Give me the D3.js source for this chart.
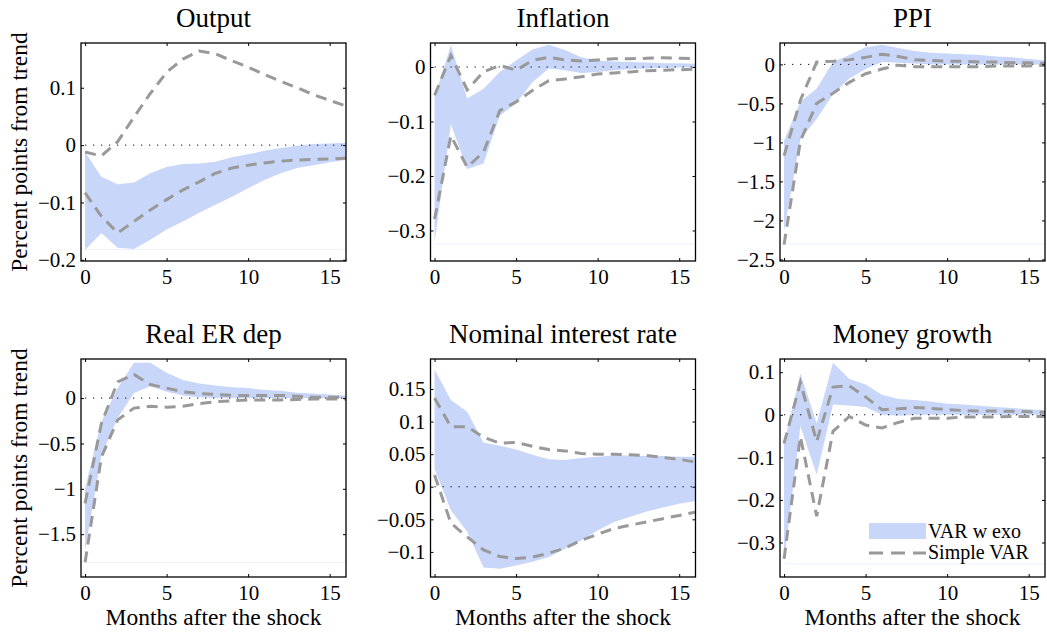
<!DOCTYPE html>
<html><head><meta charset="utf-8">
<script src="https://cdn.jsdelivr.net/npm/d3@7"></script>
<style>
body{margin:0;background:#fff;}
svg{display:block;font-family:"Liberation Serif","Times New Roman",serif;}
</style></head>
<body><svg id="chart" width="1047" height="634"></svg>
<script>
const months = [0,1,2,3,4,5,6,7,8,9,10,11,12,13,14,15,16];
const xTicks = [0,5,10,15];

const titles = ["Output","Inflation","PPI","Real ER dep","Nominal interest rate","Money growth"];

// VAR w exo band (upper / lower) and Simple VAR bounds (upper / lower)
const outputBandHi = [-0.012,-0.055,-0.068,-0.065,-0.049,-0.038,-0.033,-0.032,-0.029,-0.021,-0.016,-0.010,-0.005,-0.001,0.002,0.003,0.004];
const outputBandLo = [-0.183,-0.153,-0.179,-0.181,-0.165,-0.147,-0.133,-0.118,-0.104,-0.090,-0.075,-0.061,-0.049,-0.040,-0.035,-0.030,-0.026];
const outputSimpleHi = [-0.012,-0.019,0.006,0.049,0.090,0.127,0.150,0.164,0.159,0.147,0.136,0.123,0.111,0.100,0.088,0.078,0.068];
const outputSimpleLo = [-0.083,-0.124,-0.153,-0.133,-0.113,-0.095,-0.078,-0.064,-0.049,-0.040,-0.035,-0.031,-0.028,-0.026,-0.025,-0.024,-0.023];
const outputTicks = [-0.2,-0.1,0,0.1];

const inflBandHi = [-0.055,0.040,-0.058,-0.040,-0.009,0.012,0.032,0.041,0.031,0.018,0.012,0.010,0.009,0.008,0.007,0.007,0.006];
const inflBandLo = [-0.322,-0.105,-0.187,-0.177,-0.089,-0.067,-0.028,-0.003,-0.006,-0.011,-0.009,-0.006,-0.004,-0.003,-0.002,-0.001,0.000];
const inflSimpleHi = [-0.052,0.021,-0.042,-0.009,0.003,-0.006,0.012,0.018,0.013,0.011,0.013,0.015,0.015,0.016,0.017,0.016,0.015];
const inflSimpleLo = [-0.279,-0.126,-0.184,-0.156,-0.080,-0.064,-0.043,-0.025,-0.022,-0.018,-0.013,-0.011,-0.009,-0.007,-0.006,-0.005,-0.004];
const inflTicks = [-0.3,-0.2,-0.1,0];

const ppiBandHi = [-0.98,-0.48,-0.31,0.03,0.12,0.22,0.25,0.21,0.17,0.15,0.14,0.13,0.12,0.10,0.09,0.07,0.05];
const ppiBandLo = [-2.14,-0.96,-0.70,-0.38,-0.18,-0.06,0.03,0.02,0.01,0,0,0,0,0,0,0,0];
const ppiSimpleHi = [-1.17,-0.46,0.03,0.04,0.06,0.09,0.13,0.10,0.06,0.05,0.04,0.04,0.03,0.03,0.02,0.02,0.01];
const ppiSimpleLo = [-2.31,-0.98,-0.50,-0.37,-0.23,-0.12,-0.06,-0.01,-0.03,-0.03,-0.03,-0.03,-0.03,-0.02,-0.02,-0.02,-0.01];
const ppiTicks = [-2.5,-2,-1.5,-1,-0.5,0];

const rerBandHi = [-0.995,-0.26,0.11,0.39,0.39,0.28,0.20,0.16,0.14,0.12,0.11,0.09,0.08,0.06,0.05,0.04,0.03];
const rerBandLo = [-1.68,-0.63,-0.22,0.055,0.13,0.07,0.03,0.01,0,0,0,0,0,0,0,0,0];
const rerSimpleHi = [-1.16,-0.28,0.18,0.26,0.15,0.11,0.07,0.05,0.04,0.03,0.03,0.03,0.03,0.02,0.01,0.01,0.01];
const rerSimpleLo = [-1.81,-0.65,-0.24,-0.11,-0.09,-0.10,-0.09,-0.06,-0.04,-0.03,-0.02,-0.02,-0.02,-0.015,-0.01,-0.01,-0.01];
const rerTicks = [-1.5,-1,-0.5,0];

const rateBandHi = [0.180,0.133,0.115,0.068,0.063,0.057,0.049,0.042,0.041,0.044,0.046,0.048,0.048,0.047,0.047,0.046,0.046];
const rateBandLo = [0.027,-0.036,-0.069,-0.124,-0.126,-0.121,-0.115,-0.108,-0.095,-0.082,-0.067,-0.054,-0.046,-0.038,-0.032,-0.026,-0.022];
const rateSimpleHi = [0.136,0.092,0.092,0.076,0.067,0.068,0.062,0.057,0.055,0.051,0.050,0.050,0.049,0.048,0.045,0.042,0.038];
const rateSimpleLo = [0.018,-0.056,-0.077,-0.097,-0.107,-0.110,-0.108,-0.102,-0.094,-0.082,-0.073,-0.064,-0.059,-0.054,-0.049,-0.044,-0.039];
const rateTicks = [-0.1,-0.05,0,0.05,0.1,0.15];

const moneyBandHi = [-0.067,0.097,-0.020,0.122,0.084,0.071,0.047,0.037,0.035,0.031,0.026,0.024,0.021,0.018,0.016,0.013,0.010];
const moneyBandLo = [-0.346,-0.027,-0.141,0.024,0.022,0.018,0.000,-0.002,0,0,0,0,0,0,0,0,0];
const moneySimpleHi = [-0.067,0.076,-0.063,0.065,0.068,0.042,0.012,0.014,0.017,0.015,0.012,0.010,0.009,0.009,0.008,0.007,0.006];
const moneySimpleLo = [-0.338,-0.051,-0.238,-0.039,-0.004,-0.024,-0.031,-0.018,-0.008,-0.008,-0.008,-0.005,-0.005,-0.005,-0.004,-0.004,-0.004];
const moneyTicks = [-0.3,-0.2,-0.1,0,0.1];

const yDomains = [[-0.202,0.178],[-0.356,0.044],[-2.52,0.274],[-1.972,0.431],[-0.1385,0.196],[-0.381,0.131]];
const baselines = [-0.182,-0.325,-2.3,-1.81,null,-0.35];

const legendLabels = ["VAR w exo","Simple VAR"];
const yLabel = "Percent points from trend";
const xLabel = "Months after the shock";

const panels = [
  {bHi:outputBandHi,bLo:outputBandLo,sHi:outputSimpleHi,sLo:outputSimpleLo,ticks:outputTicks},
  {bHi:inflBandHi,bLo:inflBandLo,sHi:inflSimpleHi,sLo:inflSimpleLo,ticks:inflTicks},
  {bHi:ppiBandHi,bLo:ppiBandLo,sHi:ppiSimpleHi,sLo:ppiSimpleLo,ticks:ppiTicks},
  {bHi:rerBandHi,bLo:rerBandLo,sHi:rerSimpleHi,sLo:rerSimpleLo,ticks:rerTicks},
  {bHi:rateBandHi,bLo:rateBandLo,sHi:rateSimpleHi,sLo:rateSimpleLo,ticks:rateTicks},
  {bHi:moneyBandHi,bLo:moneyBandLo,sHi:moneySimpleHi,sLo:moneySimpleLo,ticks:moneyTicks}
];

const BAND = "#c8d6fa", DASH = "#999999";
const svg = d3.select("#chart");
const W = 265, H = 218;
const lefts = [81, 430.5, 780], tops = [43, 359];
const fmt = v => (v < 0 ? "\u2212" + String(Math.abs(v)) : String(v));

panels.forEach((p, i) => {
  const col = i % 3, row = Math.floor(i / 3);
  const g = svg.append("g").attr("transform", `translate(${lefts[col]},${tops[row]})`);
  const x = d3.scaleLinear().domain([-0.25, 16]).range([0, W]);
  const y = d3.scaleLinear().domain(yDomains[i]).range([H, 0]);

  // faint baseline of the band fill
  if (baselines[i] !== null) {
    g.append("line").attr("x1", x(0)).attr("x2", x(16)).attr("y1", y(baselines[i])).attr("y2", y(baselines[i]))
      .attr("stroke", "#eef1fb").attr("stroke-width", 1);
  }

  const area = d3.area().x((d, k) => x(months[k])).y0((d, k) => y(p.bLo[k])).y1((d, k) => y(p.bHi[k]));
  g.append("path").datum(p.bHi).attr("d", area).attr("fill", BAND);

  // zero line
  g.append("line").attr("x1", x(0)).attr("x2", x(16)).attr("y1", y(0)).attr("y2", y(0))
    .attr("stroke", "#000").attr("stroke-width", 1).attr("stroke-dasharray", "1.2,6.8");

  const line = d3.line().x((d, k) => x(months[k])).y(d => y(d));
  [p.sHi, p.sLo].forEach(s => {
    g.append("path").datum(s).attr("d", line).attr("fill", "none")
      .attr("stroke", DASH).attr("stroke-width", 3).attr("stroke-dasharray", "11,7");
  });

  // axes with inward ticks on all four sides
  const gl = g.append("g").call(d3.axisLeft(y).tickValues(p.ticks).tickFormat(fmt).tickSize(-3).tickPadding(5));
  const gr = g.append("g").attr("transform", `translate(${W},0)`).call(d3.axisRight(y).tickValues(p.ticks).tickFormat("").tickSize(-3));
  const gb = g.append("g").attr("transform", `translate(0,${H})`).call(d3.axisBottom(x).tickValues(xTicks).tickFormat(d3.format("d")).tickSize(-3).tickPadding(8));
  const gt = g.append("g").call(d3.axisTop(x).tickValues(xTicks).tickFormat("").tickSize(-3));
  [gl, gr, gb, gt].forEach(a => {
    a.select(".domain").remove();
    a.selectAll("line").attr("stroke", "#000").attr("stroke-width", 1);
    a.selectAll("text").attr("font-size", 21).attr("fill", "#000").attr("font-family", "Liberation Serif");
  });

  g.append("rect").attr("x", 0).attr("y", 0).attr("width", W).attr("height", H)
    .attr("fill", "none").attr("stroke", "#000").attr("stroke-width", 1.3);

  g.append("text").attr("x", W / 2).attr("y", -16).attr("text-anchor", "middle")
    .attr("font-size", 27).text(titles[i]);

  if (col === 0) {
    g.append("text").attr("transform", `translate(${27 - lefts[0]},${H / 2}) rotate(-90)`)
      .attr("text-anchor", "middle").attr("font-size", 23.5).text(yLabel);
  }
  if (row === 1) {
    g.append("text").attr("x", W / 2).attr("y", 625 - tops[1]).attr("text-anchor", "middle")
      .attr("font-size", 23.5).text(xLabel);
  }
  if (i === 5) {
    const lg = g.append("g");
    lg.append("rect").attr("x", 89).attr("y", 164).attr("width", 57).attr("height", 16).attr("fill", BAND);
    lg.append("line").attr("x1", 89).attr("x2", 146).attr("y1", 194).attr("y2", 194)
      .attr("stroke", DASH).attr("stroke-width", 3).attr("stroke-dasharray", "14,8");
    lg.append("text").attr("x", 148).attr("y", 179).attr("font-size", 20).text(legendLabels[0]);
    lg.append("text").attr("x", 148).attr("y", 200).attr("font-size", 20).text(legendLabels[1]);
  }
});
</script></body></html>
